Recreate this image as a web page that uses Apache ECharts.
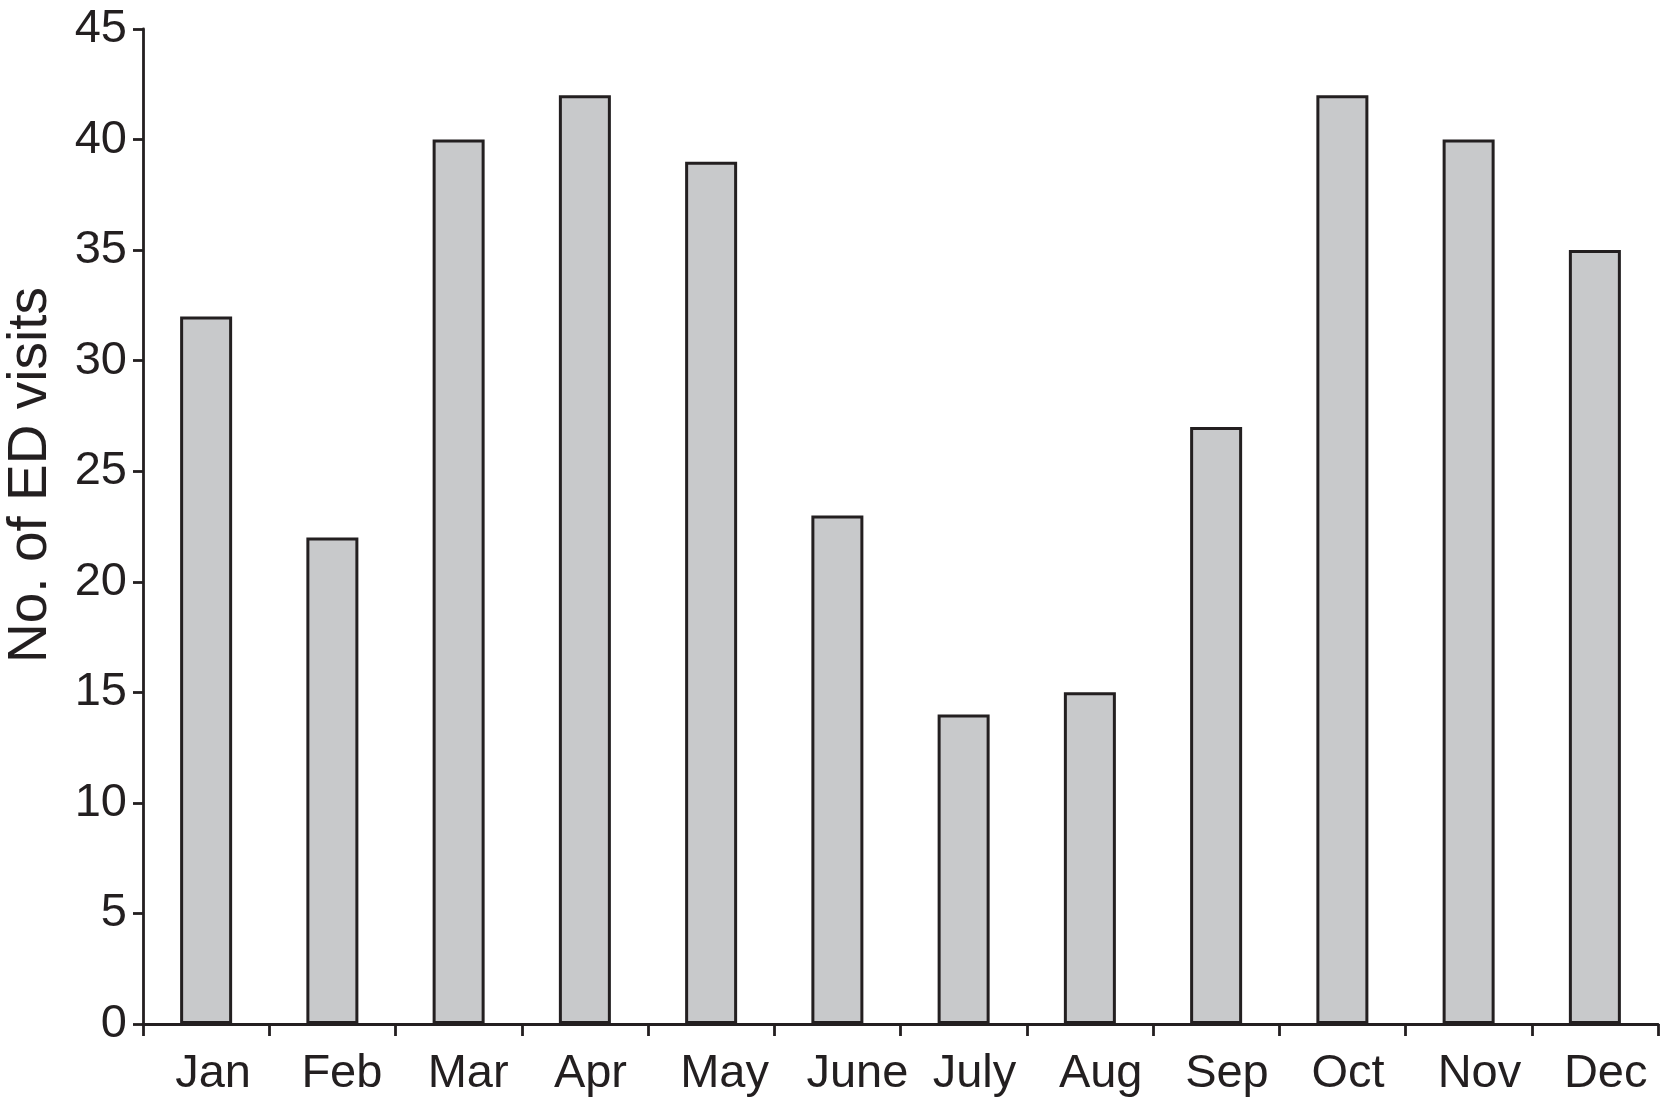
<!DOCTYPE html>
<html>
<head>
<meta charset="utf-8">
<script src="https://cdn.jsdelivr.net/npm/echarts@6/dist/echarts.min.js"></script>
<style>
html,body{margin:0;padding:0;background:#fff;}
#chart{width:1660px;height:1113px;}
</style>
</head>
<body>
<div id="chart"></div>
<script>
const months = ['Jan','Feb','Mar','Apr','May','June','July','Aug','Sep','Oct','Nov','Dec'];
const visits = [32, 22, 40, 42, 39, 23, 14, 15, 27, 42, 40, 35];
const yAxisTitle = 'No. of ED visits';
const yMin = 0, yMax = 45, yStep = 5;

const ink = '#231f20';
const font = 'Liberation Sans, Arial, Helvetica, sans-serif';

const chart = echarts.init(document.getElementById('chart'));
chart.setOption({
  animation: false,
  backgroundColor: '#ffffff',
  grid: { left: 143, top: 29, right: 2, bottom: 89, containLabel: false },
  xAxis: {
    type: 'category',
    data: months,
    boundaryGap: true,
    axisLine: { show: true, lineStyle: { color: ink, width: 2.8 } },
    axisTick: { show: true, alignWithLabel: false, length: 12, lineStyle: { color: ink, width: 2.8 } },
    axisLabel: { color: ink, fontFamily: font, fontSize: 47, margin: 27, interval: 0,
                 align: 'left', padding: [0, 0, 0, -31] },
    splitLine: { show: false }
  },
  yAxis: {
    type: 'value',
    min: yMin, max: yMax, interval: yStep,
    axisLine: { show: true, lineStyle: { color: ink, width: 2.8 } },
    axisTick: { show: true, inside: false, length: 10, lineStyle: { color: ink, width: 2.8 } },
    axisLabel: { color: ink, fontFamily: font, fontSize: 47, margin: 16 },
    splitLine: { show: false }
  },
  graphic: [{
    type: 'text',
    x: 31, y: 475,
    rotation: Math.PI / 2,
    style: {
      text: yAxisTitle,
      fill: ink,
      font: '55px ' + font,
      textAlign: 'center',
      textVerticalAlign: 'middle'
    }
  }],
  series: [{
    type: 'bar',
    data: visits,
    barWidth: 52,
    itemStyle: { color: '#c8c9cb', borderColor: ink, borderWidth: 3 }
  }]
});
</script>
</body>
</html>
